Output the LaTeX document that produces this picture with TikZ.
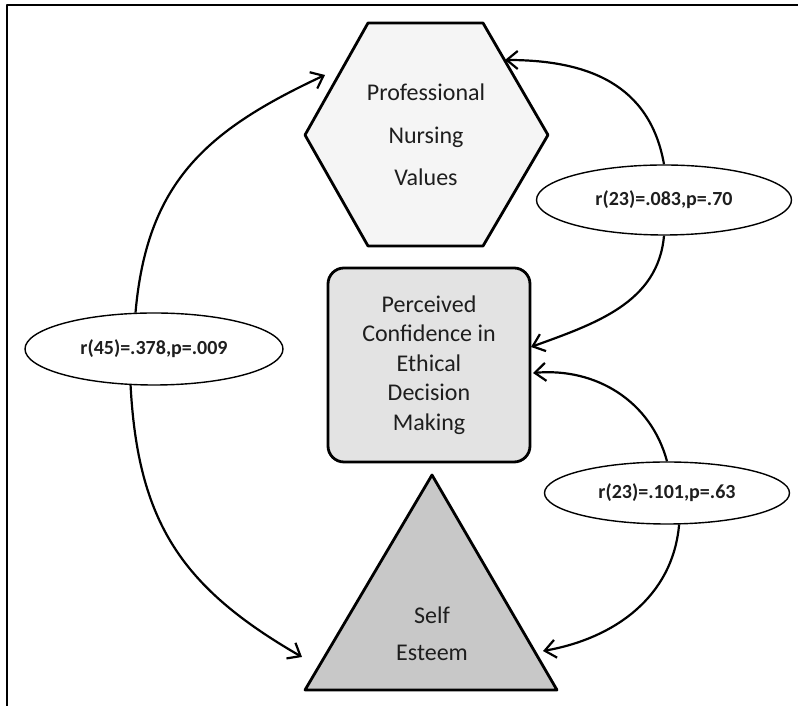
\documentclass[tikz,border=0pt]{standalone}
\usepackage{fontspec}
\setmainfont{Carlito}
\usetikzlibrary{shapes,arrows.meta,positioning}
\definecolor{hexfill}{HTML}{F5F5F5}
\definecolor{boxfill}{HTML}{E3E3E3}
\definecolor{trifill}{HTML}{C8C8C8}
\definecolor{ink}{HTML}{1E1E1E}

\begin{document}
\begin{tikzpicture}[x = 1pt, y = 1pt, line join = round, every node/.style = {text = ink}, block/.style = {draw, line width = 2.8pt, fill = #1}, box/.style = {draw, line width = 2.8pt, fill = boxfill, rounded corners = 16pt, minimum width = 202pt, minimum height = 194pt, align = center, font = \fontsize{24}{29.5}\selectfont}, stat/.style = {draw, ellipse, line width = 1.4pt, fill = white, inner sep = 0pt, font = \bfseries\fontsize{20}{24}\selectfont}, link/.style = {line width = 2.2pt, -{Straight Barb[length = 11pt, width = 18pt]}}]
\useasboundingbox (0,0) rectangle (798,706);
\draw[line width = 2.8pt] (7,-5) -- (7,701) -- (803,701);

\draw[block = hexfill] (368,683) -- (483,683) -- (548,571) -- (483,460) -- (368,460) -- (305,571) -- cycle;
\draw[block = trifill] (432,231) -- (557,16) -- (305,16) -- cycle;

\node[align = center, font = \fontsize{24}{42.5}\selectfont] (pnv) at (426,571) {Professional\\Nursing\\Values};
\node[box] (pced) at (429,341) {Perceived\\Confidence in\\Ethical\\Decision\\Making};
\node[align = center, font = \fontsize{24}{37}\selectfont] (se) at (432,72) {Self\\Esteem};

\node[stat, minimum width = 255pt, minimum height = 70pt] (rpv) at (664,506) {r(23)=.083,p=.70};
\node[stat, minimum width = 245pt, minimum height = 62pt] (rse) at (667,213) {r(23)=.101,p=.63};
\node[stat, minimum width = 258pt, minimum height = 72pt] (rps) at (154,357) {r(45)=.378,p=.009};

\coordinate (pnvL) at (325,631);
\coordinate (pnvR) at (505,646);
\coordinate (pcedU) at (531,359);
\coordinate (pcedD) at (533,333);
\coordinate (seR) at (543,55);
\coordinate (seL) at (302,49);

\draw[link] (rps.117) to[out = 85, in = 205, looseness = 1.1] (pnvL);
\draw[link] (rps.237) to[out = 273, in = 150, looseness = 1.1] (seL);
\draw[link] (rpv.north) to[out = 100, in = 0, looseness = 1.1] (pnvR);
\draw[link] (rpv.south) to[out = 265, in = 20] (pcedU);
\draw[link] (rse.north) to[out = 105, in = 5] (pcedD);
\draw[link] (rse.-69) to[out = 265, in = 10] (seR);
\end{tikzpicture}
\end{document}
